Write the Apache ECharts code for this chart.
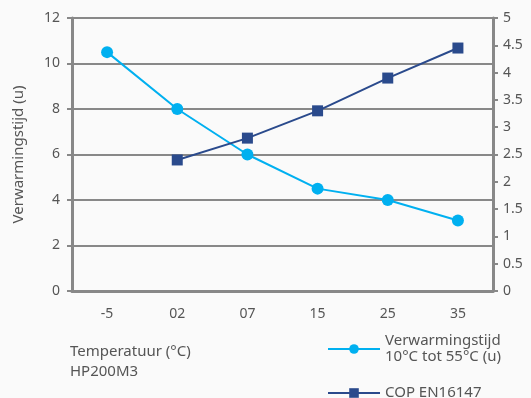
<!DOCTYPE html>
<html><head><meta charset="utf-8">
<script src="https://cdn.jsdelivr.net/npm/echarts@6/dist/echarts.min.js"></script>
<style>html,body{margin:0;padding:0;background:#fafafa}#c{width:531px;height:398px}</style>
</head><body><div id="c"></div>
<script>
const categories = ['-5', '02', '07', '15', '25', '35'];
const heatTime = [10.5, 8.0, 6.0, 4.5, 4.0, 3.1];
const cop = [null, 2.4, 2.8, 3.3, 3.9, 4.45];
const leftTicks = [0, 12, 2];
const rightTicks = [0, 5, 0.5];
const font = 'Noto Sans';
const chart = echarts.init(document.getElementById('c'), null, {renderer: 'canvas'});
chart.setOption({
  backgroundColor: '#fafafa',
  animation: false,
  textStyle: {fontFamily: font},
  grid: {left: 72, right: 38, top: 18, bottom: 107, containLabel: false},
  xAxis: {
    type: 'category', data: categories,
    axisLine: {lineStyle: {color: '#888', width: 3}},
    axisTick: {show: false},
    axisLabel: {color: '#555', fontSize: 14, margin: 16, fontFamily: font}
  },
  yAxis: [{
    type: 'value', min: leftTicks[0], max: leftTicks[1], interval: leftTicks[2],
    name: 'Verwarmingstijd (u)', nameLocation: 'middle', nameGap: 46, nameRotate: 90,
    nameTextStyle: {color: '#555', fontSize: 15, fontFamily: font},
    axisLine: {show: true, lineStyle: {color: '#888', width: 3}},
    axisTick: {show: true, length: 5, lineStyle: {color: '#888', width: 2}},
    axisLabel: {color: '#555', fontSize: 14, margin: 12, fontFamily: font},
    splitLine: {show: true, lineStyle: {color: '#888', width: 2}}
  }, {
    type: 'value', min: rightTicks[0], max: rightTicks[1], interval: rightTicks[2],
    position: 'right',
    axisLine: {show: true, lineStyle: {color: '#888', width: 3}},
    axisTick: {show: true, length: 5, lineStyle: {color: '#888', width: 2}},
    axisLabel: {color: '#555', fontSize: 14, margin: 10, fontFamily: font},
    splitLine: {show: false}
  }],
  legend: {
    orient: 'vertical', left: 322, top: 328, itemGap: 20,
    itemWidth: 52, itemHeight: 12,
    textStyle: {color: '#555', fontSize: 15, fontFamily: font, lineHeight: 16},
    data: ['Verwarmingstijd\n10°C tot 55°C (u)', 'COP EN16147']
  },
  graphic: [
    {type: 'text', left: 70, top: 344, style: {text: 'Temperatuur (°C)', fill: '#555', font: '15px "Noto Sans"'}},
    {type: 'text', left: 70, top: 364, style: {text: 'HP200M3', fill: '#555', font: '15px "Noto Sans"'}}
  ],
  series: [{
    name: 'Verwarmingstijd\n10°C tot 55°C (u)', type: 'line', yAxisIndex: 0,
    data: heatTime, symbol: 'circle', symbolSize: 12,
    lineStyle: {color: '#00b0f0', width: 2}, itemStyle: {color: '#00b0f0'}
  }, {
    name: 'COP EN16147', type: 'line', yAxisIndex: 1,
    data: cop, symbol: 'rect', symbolSize: 11,
    lineStyle: {color: '#2a4a8c', width: 2}, itemStyle: {color: '#2a4a8c'}
  }]
});
</script></body></html>
